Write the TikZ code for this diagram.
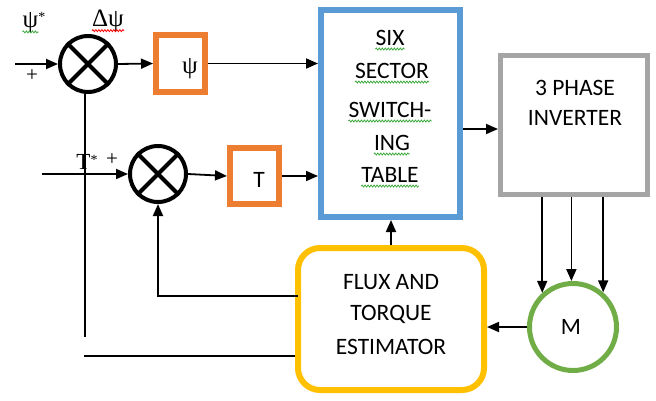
\documentclass[tikz,border=0pt]{standalone}
\usepackage{fontspec}
\setmainfont{Carlito}
\newfontfamily\grk{Liberation Serif}
\usetikzlibrary{arrows.meta,decorations.pathmorphing,calc}
\definecolor{ora}{HTML}{ED7D31}
\definecolor{blu}{HTML}{5B9BD5}
\definecolor{gry}{HTML}{A5A5A5}
\definecolor{yel}{HTML}{FFC000}
\definecolor{grn}{HTML}{70AD47}
\definecolor{sqg}{HTML}{3DAA3D}
\tikzset{
  arr/.style={line width=1.8pt,-{Triangle[length=12pt,width=10pt]}},
  ln/.style={line width=1.8pt},
  sumc/.style={circle,draw=black,line width=4pt,minimum size=56pt,inner sep=0pt},
  obox/.style={draw=ora,line width=6pt,rectangle,inner sep=0pt},
  txt/.style={inner sep=0pt,font=\fontsize{23.5}{27}\selectfont,text=black},
  gtxt/.style={inner sep=0pt,font=\grk\fontsize{25}{28}\selectfont},
  sq/.style={decorate,decoration={snake,amplitude=1pt,segment length=3pt},line width=0.8pt},
}
\begin{document}
\begin{tikzpicture}[x=1pt,y=-1pt]
\useasboundingbox (0,0) rectangle (656,401);
% summing junctions
\node[sumc] (s1) at (88,64) {};
\draw[line width=4pt] (s1.45) -- (s1.225) (s1.135) -- (s1.315);
\node[sumc] (s2) at (158,174) {};
\draw[line width=4pt] (s2.45) -- (s2.225) (s2.135) -- (s2.315);
% boxes
\node[obox,minimum width=49pt,minimum height=57pt] (pb) at (180.5,63.5) {};
\node[gtxt] (pbt) at (190,69) {ψ};
\node[obox,minimum width=49pt,minimum height=56pt] (tb) at (254.5,176) {};
\node[txt] (tbt) at (259,180) {T};
\node[draw=blu,line width=6pt,minimum width=139pt,minimum height=207pt,inner sep=0pt] (six) at (390.5,113.5) {};
\node[txt] (six1) at (390,37.5) {SIX};
\node[txt] (six2) at (392,70.5) {SECTOR};
\node[txt] (six3) at (390,109.5) {SWITCH-};
\node[txt] (six4) at (392,142.5) {ING};
\node[txt] (six5) at (390,174.5) {TABLE};
\node[draw=gry,line width=5pt,minimum width=147pt,minimum height=139pt,inner sep=0pt] (inv) at (574,125) {};
\node[txt] (inv1) at (575,87.5) {3 PHASE};
\node[txt] (inv2) at (575,118) {INVERTER};
\node[draw=yel,line width=6pt,rounded corners=22pt,minimum width=186pt,minimum height=142pt,inner sep=0pt] (est) at (391,319) {};
\node[txt] (est1) at (391,282.5) {FLUX AND};
\node[txt] (est2) at (391,314) {TORQUE};
\node[txt] (est3) at (391,346.5) {ESTIMATOR};
\node[circle,draw=grn,line width=5pt,minimum size=87pt,inner sep=0pt] (mot) at (573,327) {};
\node[txt] (mt) at (571,326.5) {M};
% labels
\node[gtxt] (psis) at (34,23) {ψ\raisebox{6pt}{\fontsize{14}{14}\selectfont*}};
\node[gtxt] (dpsi) at (108,21) {Δψ};
\node[gtxt,font=\grk\fontsize{21}{21}\selectfont] (p1) at (32,76) {+};
\node[gtxt,font=\grk\fontsize{23}{23}\selectfont] (tst) at (87,162) {T\raisebox{5pt}{\fontsize{14}{14}\selectfont*}};
\node[gtxt,font=\grk\fontsize{21}{21}\selectfont] (p2) at (112,160) {+};
% squiggles
\draw[sq,sqg] ([yshift=-4pt]psis.base west) -- ([yshift=-4pt,xshift=-7pt]psis.base east);
\draw[sq,red] ([yshift=-4pt]dpsi.base west) -- ([yshift=-4pt]dpsi.base east);
\foreach \n in {six1,six2,six3,six4,six5}{
  \draw[sq,sqg] ([yshift=-4pt]\n.base west) -- ([yshift=-4pt]\n.base east);
}
% connectors
\coordinate (in1) at (15,64);
\coordinate (in2) at (42,174);
\draw[arr] (in1) -- (s1.west);
\draw[arr] (s1.east) -- (pb.west);
\draw[arr] (pb.east) -- (pb.east -| six.west);
\draw[arr] (in2) -- (s2.west);
\draw[arr] (s2.east) -- (tb.west);
\draw[arr] (tb.east) -- (tb.east -| six.west);
\coordinate (o6) at (463,129);
\draw[arr] (o6) -- (o6 -| inv.west);
\draw[arr] (est.north) -- (est.north |- six.south);
\draw[arr] (mot.west) -- (mot.west -| est.east);
\foreach \a in {132,92,49}{
  \draw[arr] (inv.south -| mot.\a) -- (mot.\a);
}
\coordinate (fbt) at (298,296);
\draw[arr] (fbt) -| (s2.south);
\coordinate (fv) at (85,337);
\draw[ln] (s1.south -| fv) -- (fv);
\coordinate (fh) at (84,356);
\draw[ln] (fh) -- (fh -| est.west);
\end{tikzpicture}
\end{document}
